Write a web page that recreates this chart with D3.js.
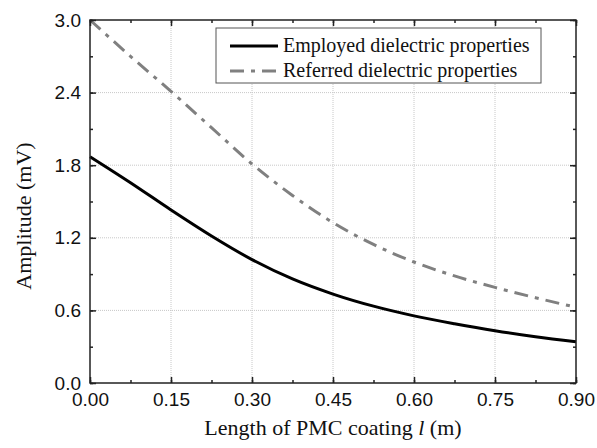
<!DOCTYPE html>
<html>
<head>
<meta charset="utf-8">
<script src="https://cdn.jsdelivr.net/npm/d3@7"></script>
<style>
  body { margin: 0; background: #fff; }
  .tick text { font-family: "Liberation Sans", Arial, sans-serif; font-size: 19px; fill: #111; }
</style>
</head>
<body>
<script>
// length of PMC coating (m)
var lengths = [0, 0.075, 0.15, 0.225, 0.30, 0.375, 0.45, 0.525, 0.60, 0.675, 0.75, 0.825, 0.90];
// amplitude (mV)
var employed = [1.87, 1.655, 1.43, 1.215, 1.02, 0.86, 0.735, 0.635, 0.555, 0.49, 0.432, 0.383, 0.341];
var referred = [3.00, 2.70, 2.41, 2.11, 1.81, 1.55, 1.325, 1.145, 1.0, 0.885, 0.79, 0.705, 0.626];
var seriesNames = ["Employed dielectric properties", "Referred dielectric properties"];
var xTicks = [0, 0.15, 0.30, 0.45, 0.60, 0.75, 0.90];
var yTicks = [0, 0.6, 1.2, 1.8, 2.4, 3.0];

var W = 597, H = 448;
var margin = {top: 20, right: 21, bottom: 65, left: 90};
var width = W - margin.left - margin.right;
var height = H - margin.top - margin.bottom;

var svg = d3.select("body").append("svg")
    .attr("width", W)
    .attr("height", H)
  .append("g")
    .attr("transform", "translate(" + margin.left + "," + margin.top + ")");

var x = d3.scaleLinear().domain([0, 0.9]).range([0, width]);
var y = d3.scaleLinear().domain([0, 3.0]).range([height, 0]);

var xMinor = d3.range(0, 0.9001, 0.075);
var yMinor = d3.range(0, 3.0001, 0.3);

// grid lines
svg.append("g").selectAll("line.gx")
    .data(xTicks.slice(1, -1))
  .enter().append("line")
    .attr("x1", function(d) { return x(d); })
    .attr("x2", function(d) { return x(d); })
    .attr("y1", 0).attr("y2", height)
    .attr("stroke", "#c8c8c8").attr("stroke-width", 1)
    .attr("stroke-dasharray", "1,1");
svg.append("g").selectAll("line.gy")
    .data(yTicks.slice(1, -1))
  .enter().append("line")
    .attr("y1", function(d) { return y(d); })
    .attr("y2", function(d) { return y(d); })
    .attr("x1", 0).attr("x2", width)
    .attr("stroke", "#c8c8c8").attr("stroke-width", 1)
    .attr("stroke-dasharray", "1,1");

// curves
var line = d3.line()
    .x(function(d) { return x(d[0]); })
    .y(function(d) { return y(d[1]); })
    .curve(d3.curveMonotoneX);

svg.append("path")
    .datum(lengths.map(function(l, i) { return [l, referred[i]]; }))
    .attr("fill", "none")
    .attr("stroke", "#808080")
    .attr("stroke-width", 3)
    .attr("stroke-dasharray", "14,7,4,7")
    .attr("d", line);

svg.append("path")
    .datum(lengths.map(function(l, i) { return [l, employed[i]]; }))
    .attr("fill", "none")
    .attr("stroke", "#000")
    .attr("stroke-width", 3)
    .attr("d", line);

// axes: major ticks inward, minor ticks inward
function axisStyle(g) {
  g.select(".domain").remove();
  g.selectAll(".tick line").attr("stroke", "#222").attr("stroke-width", 1.5);
}

svg.append("g")
    .attr("transform", "translate(0," + height + ")")
    .call(d3.axisBottom(x).tickValues(xMinor).tickSize(-3).tickFormat(""))
    .call(axisStyle);
svg.append("g")
    .attr("transform", "translate(0," + height + ")")
    .call(d3.axisBottom(x).tickValues(xTicks).tickSize(-6).tickPadding(10).tickFormat(d3.format(".2f")))
    .call(axisStyle);
svg.append("g")
    .call(d3.axisTop(x).tickValues(xMinor).tickSize(-3).tickFormat(""))
    .call(axisStyle);
svg.append("g")
    .call(d3.axisTop(x).tickValues(xTicks).tickSize(-6).tickFormat(""))
    .call(axisStyle);

svg.append("g")
    .call(d3.axisLeft(y).tickValues(yMinor).tickSize(-3).tickFormat(""))
    .call(axisStyle);
svg.append("g")
    .call(d3.axisLeft(y).tickValues(yTicks).tickSize(-6).tickPadding(9).tickFormat(d3.format(".1f")))
    .call(axisStyle);
svg.append("g")
    .attr("transform", "translate(" + width + ",0)")
    .call(d3.axisRight(y).tickValues(yMinor).tickSize(-3).tickFormat(""))
    .call(axisStyle);
svg.append("g")
    .attr("transform", "translate(" + width + ",0)")
    .call(d3.axisRight(y).tickValues(yTicks).tickSize(-6).tickFormat(""))
    .call(axisStyle);

// frame
svg.append("rect")
    .attr("width", width).attr("height", height)
    .attr("fill", "none").attr("stroke", "#222").attr("stroke-width", 1.5);

// axis titles
var xt = svg.append("text")
    .attr("x", width / 2)
    .attr("y", height + 52)
    .attr("text-anchor", "middle")
    .style("font-family", "'Liberation Serif', 'Times New Roman', serif")
    .style("font-size", "22px")
    .attr("fill", "#111");
xt.append("tspan").text("Length of PMC coating ");
xt.append("tspan").style("font-style", "italic").text("l");
xt.append("tspan").text(" (m)");

svg.append("text")
    .attr("transform", "translate(" + (-59) + "," + (196) + ") rotate(-90)")
    .attr("text-anchor", "middle")
    .style("font-family", "'Liberation Serif', 'Times New Roman', serif")
    .style("font-size", "22px")
    .attr("fill", "#111")
    .text("Amplitude (mV)");

// legend
var legend = svg.append("g").attr("transform", "translate(126,8)");
legend.append("rect")
    .attr("width", 325).attr("height", 55)
    .attr("fill", "#fff").attr("stroke", "#555").attr("stroke-width", 1);
var items = [
  {name: seriesNames[0], color: "#000", dash: null},
  {name: seriesNames[1], color: "#808080", dash: "14,7,4,7"}
];
items.forEach(function(it, i) {
  var gy = 18 + i * 25;
  legend.append("line")
      .attr("x1", 14).attr("x2", 62)
      .attr("y1", gy).attr("y2", gy)
      .attr("stroke", it.color).attr("stroke-width", 3)
      .attr("stroke-dasharray", it.dash);
  legend.append("text")
      .attr("x", 67).attr("y", gy + 6)
      .style("font-family", "'Liberation Serif', 'Times New Roman', serif")
      .style("font-size", "20px")
      .attr("fill", "#111")
      .text(it.name);
});
</script>
</body>
</html>
